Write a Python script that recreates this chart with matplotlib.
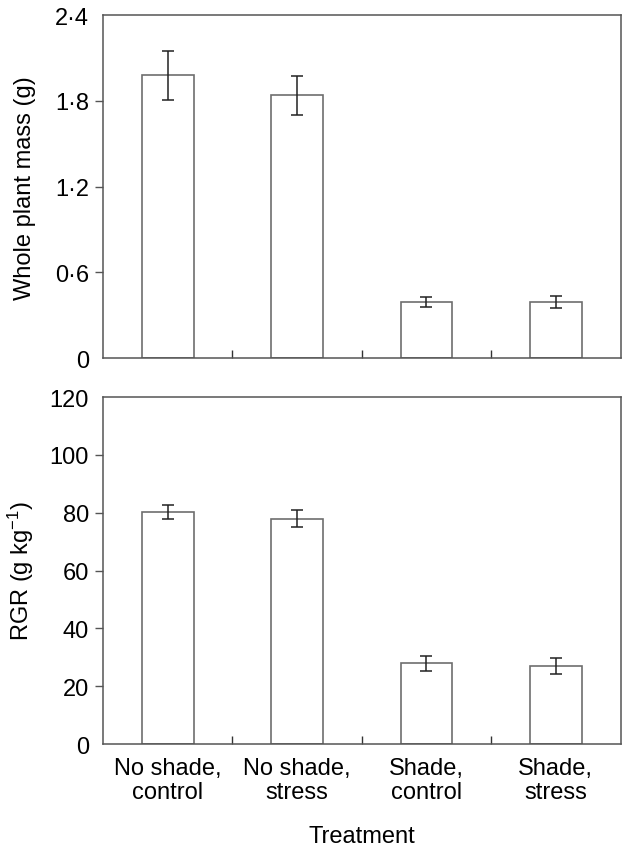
import matplotlib
matplotlib.use("Agg")
import matplotlib.pyplot as plt
import numpy as np

plt.rcParams['font.family'] = ['Liberation Sans', 'DejaVu Sans']
plt.rcParams['mathtext.fontset'] = 'custom'
plt.rcParams['mathtext.rm'] = 'Liberation Sans'
plt.rcParams['mathtext.it'] = 'Liberation Sans'

categories = ["No shade,\ncontrol", "No shade,\nstress", "Shade,\ncontrol", "Shade,\nstress"]
mass = [1.98, 1.84, 0.395, 0.395]
mass_err = [0.17, 0.135, 0.035, 0.042]
rgr = [80.3, 77.9, 27.9, 26.9]
rgr_err = [2.5, 3.0, 2.5, 2.7]
mass_ticks = [0, 0.6, 1.2, 1.8, 2.4]
mass_ticklabels = ["0", "0·6", "1·2", "1·8", "2·4"]
rgr_ticks = [0, 20, 40, 60, 80, 100, 120]

spine_col = "#555555"
bar_edge = "#6e6e6e"
fs = 17

fig = plt.figure(figsize=(6.22, 8.53), dpi=100)
ax1 = fig.add_axes([0.1656, 0.579, 0.832, 0.402])
ax2 = fig.add_axes([0.1656, 0.1266, 0.832, 0.4068])

x = np.arange(len(categories))

def style(ax, vals, errs, ticks, labels, ylim):
    ax.bar(x, vals, width=0.40, color="white", edgecolor=bar_edge, linewidth=1.2, zorder=2)
    ax.errorbar(x, vals, yerr=errs, fmt="none", ecolor="#222222", elinewidth=1.1,
                capsize=4, capthick=1.1, zorder=3)
    ax.set_xlim(-0.5, 3.5)
    ax.set_ylim(*ylim)
    ax.set_yticks(ticks)
    ax.set_yticklabels(labels, fontsize=fs)
    for s in ax.spines.values():
        s.set_color(spine_col)
        s.set_linewidth(1.1)
    ax.tick_params(axis="y", direction="out", length=6, width=1, color=spine_col, pad=4)
    tl = ax.yaxis.get_major_ticks()
    tl[0].tick1line.set_visible(False)
    tl[-1].tick1line.set_visible(False)
    ax.set_xticks([0.5, 1.5, 2.5], minor=True)
    ax.tick_params(axis="x", which="minor", direction="in", length=6, width=1, color="#333333")
    ax.set_xticks(x)
    ax.tick_params(axis="x", which="major", length=0, labelsize=fs, pad=9)

style(ax1, mass, mass_err, mass_ticks, mass_ticklabels, (0, 2.4))
ax1.set_xticklabels([])
ax1.set_ylabel("Whole plant mass (g)", fontsize=fs)
ax1.yaxis.set_label_coords(-0.13, 0.5)

style(ax2, rgr, rgr_err, rgr_ticks, [str(t) for t in rgr_ticks], (0, 120))
ax2.set_xticklabels(categories, fontsize=fs, linespacing=1.15)
ax2.set_ylabel("RGR (g kg$^{-1}$)", fontsize=fs)
ax2.yaxis.set_label_coords(-0.13, 0.5)
ax2.set_xlabel("Treatment", fontsize=fs, labelpad=16)

fig.savefig("out.png", dpi=100)
